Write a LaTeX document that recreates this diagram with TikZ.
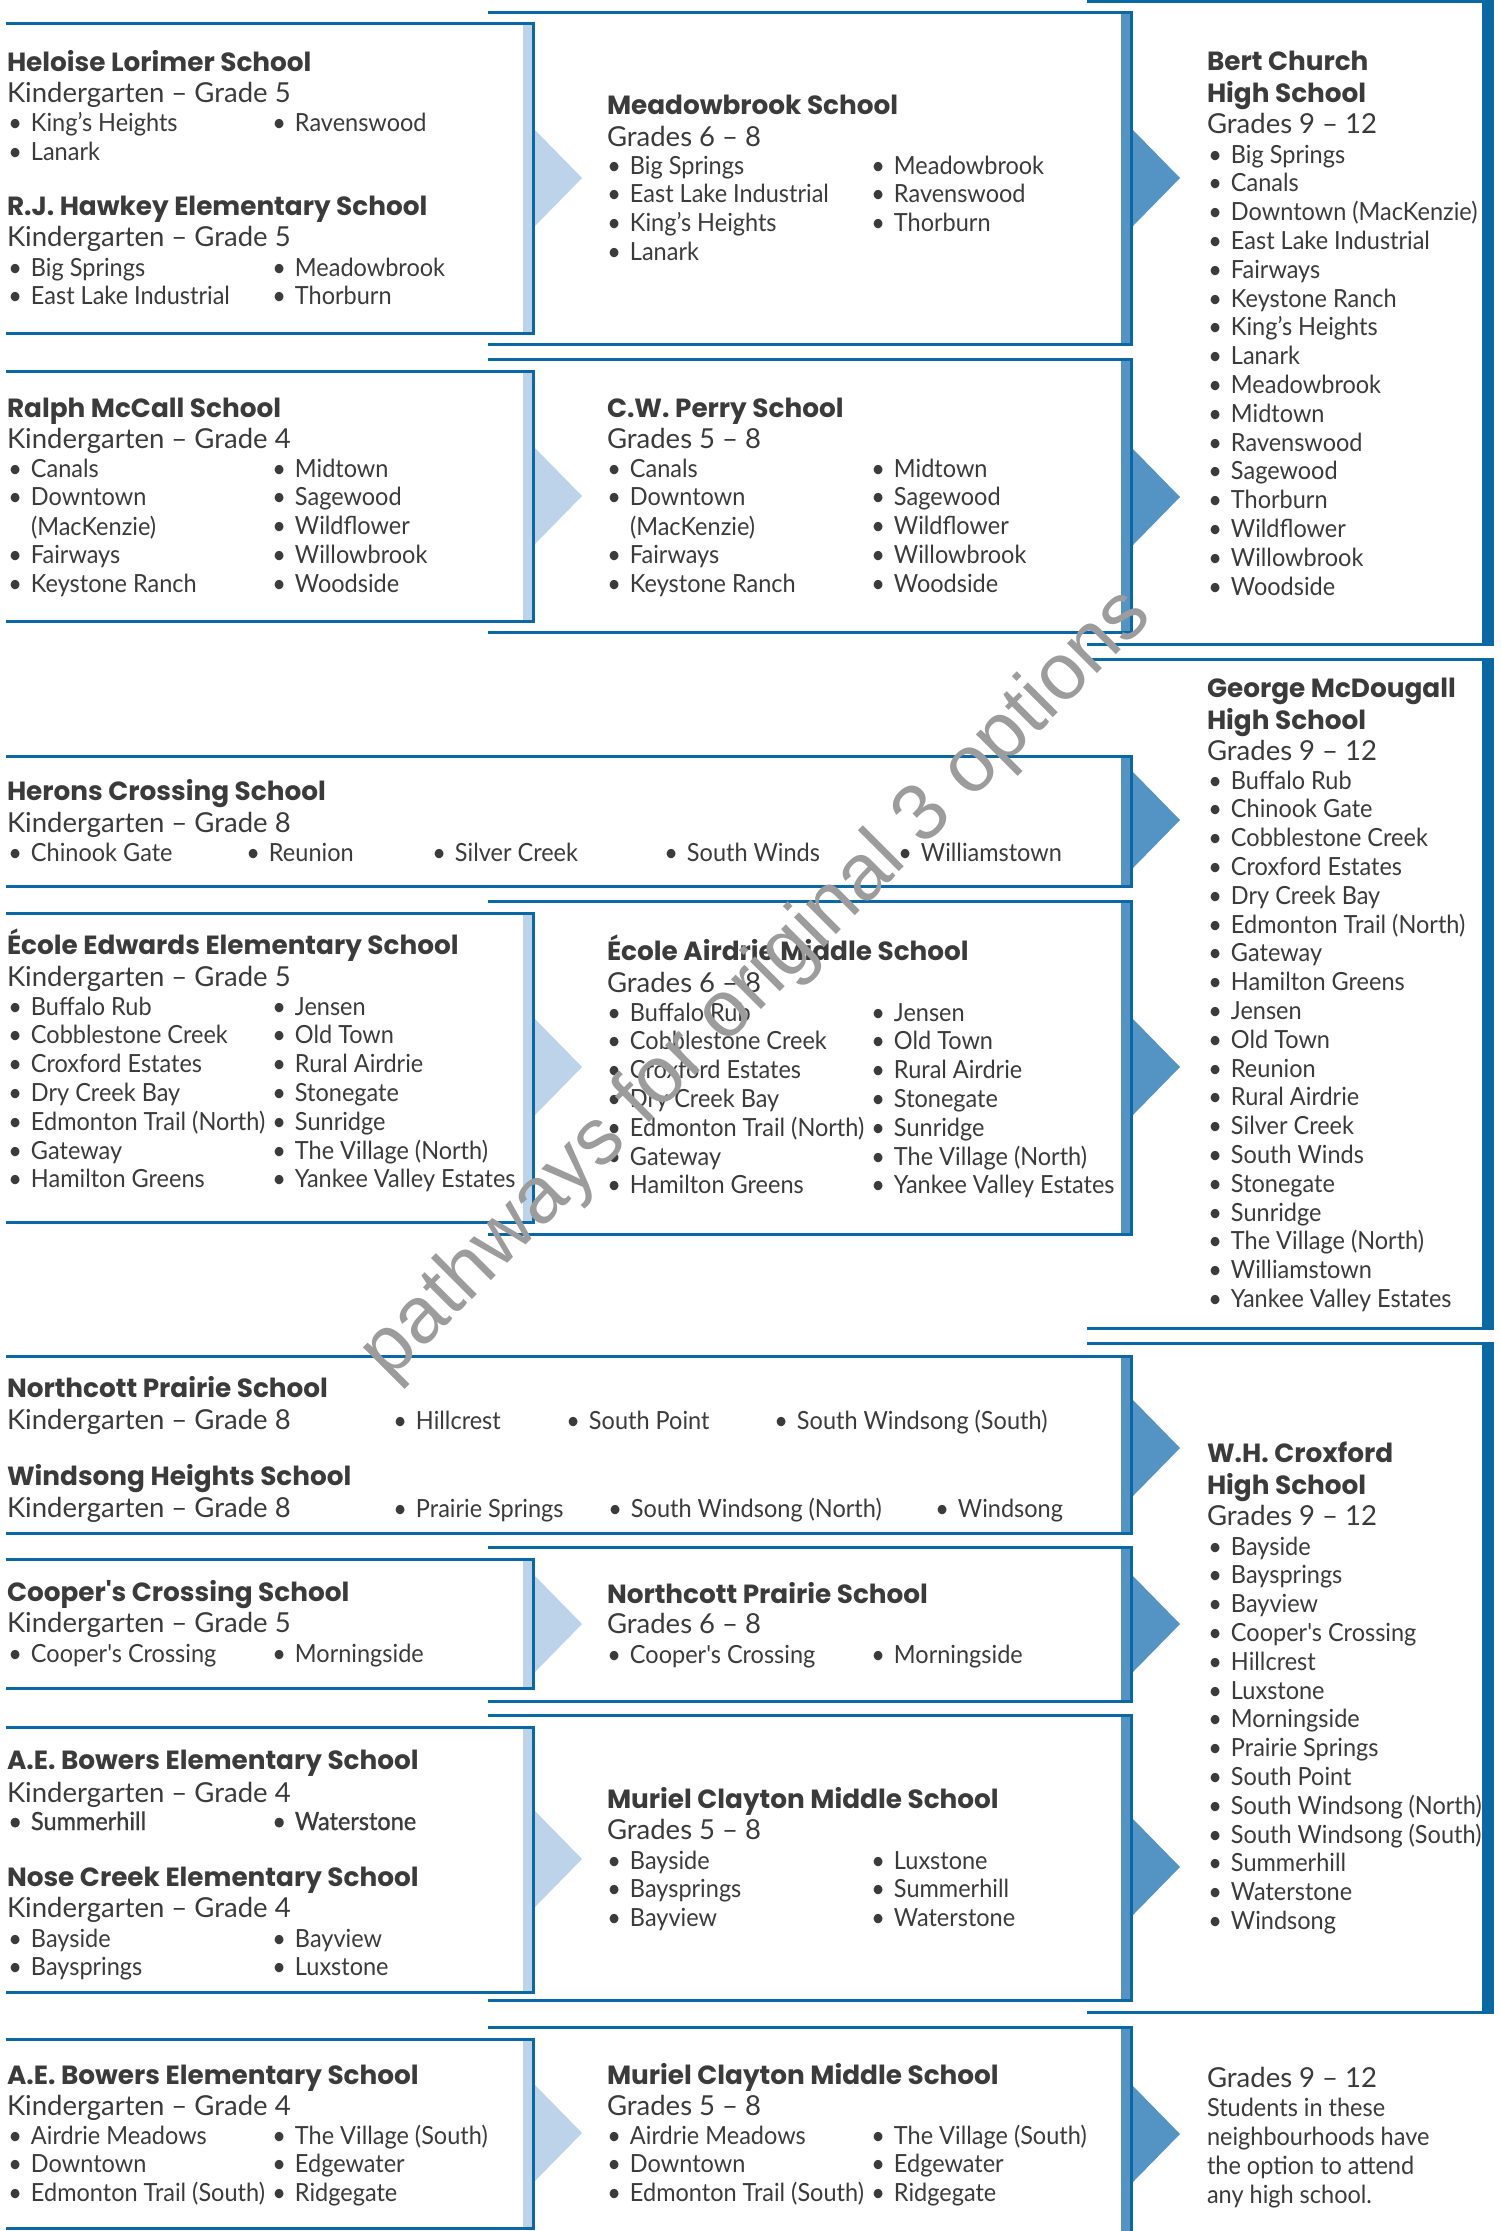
\documentclass[tikz,border=0pt]{standalone}
\usepackage{fontspec}
\setmainfont{Lato}[FakeStretch=0.94,Ligatures=TeXOff]
\newfontfamily\gradefam{Lato}[Ligatures=TeXOff]
\newfontfamily\titlefam{Poppins}[Ligatures=TeXOff]
\newfontfamily\wmfam{Liberation Sans}
\definecolor{dblue}{HTML}{0A69A5}
\definecolor{mblue}{HTML}{5494C4}
\definecolor{lblue}{HTML}{BDD3EA}
\definecolor{tcol}{HTML}{3B3B3B}
\definecolor{wmcol}{HTML}{9C9C9C}
\newcommand\bodyf{\fontsize{25}{30}\selectfont}
\newcommand\gradef{\gradefam\fontsize{27.5}{30}\selectfont}
\newcommand\titlef{\titlefam\bfseries\fontsize{26.3}{30}\selectfont}
\newcommand\wmf{\wmfam\fontsize{80}{80}\selectfont}
\tikzset{
  txt/.style={anchor=base west, inner sep=0pt, outer sep=0pt, text=tcol},
  titlenode/.style={txt, font=\titlef},
  gradenode/.style={txt, font=\gradef},
  itemnode/.style={txt, font=\bodyf},
  darkitem/.style={txt, font=\bodyf\addfontfeatures{FakeBold=1}},
  boxline/.style={draw=dblue, line width=3pt},
  wmark/.style={text=wmcol, font=\wmf, inner sep=0pt},
}
\newcommand\schoolbox[6]{%
  \coordinate (#1-nw) at (#2,#4);
  \coordinate (#1-se) at (#3,#5);
  \fill[#6] ({#3-12},#4) rectangle (#3,#5);
  \draw[boxline] (#2,#4) -- ({#3-1.5},#4) -- ({#3-1.5},#5) -- (#2,#5);
}
\newcommand\pointer[4]{%
  \fill[#4] (#2,{#3-48}) -- ({#2+47},#3) -- (#2,{#3+48}) -- cycle;
  \coordinate (#1) at ({#2+47},#3);
}
\newcommand\ttl[4]{\node[titlenode] (#1) at (#2,#3) {#4};}
\newcommand\grd[4]{\node[gradenode] (#1) at (#2,#3) {#4};}
\newcommand\plain[4]{\node[itemnode] (#1) at (#2,#3) {#4};}
\newcommand\itm[4]{\node[itemnode] (#1) at (#2,#3) {\llap{•\hspace{9pt}}#4};}
\newcommand\ditm[4]{\node[darkitem] (#1) at (#2,#3) {\llap{•\hspace{9pt}}#4};}
\newcommand\blist[4]{%
  \foreach[count=\i] \t in {#4} {\node[itemnode] (#1-\i) at (#2,{#3+(\i-1)*28.8}) {\llap{•\hspace{9pt}}\t};}%
}
\begin{document}
\begin{tikzpicture}[x=1pt,y=-1pt]
\useasboundingbox (0,0) rectangle (1501,2231);
\clip (0,0) rectangle (1501,2231);
\fill[white] (0,0) rectangle (1501,2231);
% ---------- boxes ----------
\schoolbox{L1}{6}{535}{23}{333}{lblue}
\schoolbox{L2}{6}{535}{371}{621}{lblue}
\schoolbox{L3}{6}{535}{913}{1222}{lblue}
\schoolbox{L5}{6}{535}{1559}{1688}{lblue}
\schoolbox{L6}{6}{535}{1727}{1992}{lblue}
\schoolbox{L7}{6}{535}{2039}{2228}{lblue}
\schoolbox{HC}{6}{1133}{756}{886}{mblue}
\schoolbox{NW}{6}{1133}{1356}{1533}{mblue}
\schoolbox{M1}{488}{1133}{12}{344}{mblue}
\schoolbox{M2}{488}{1133}{359}{632}{mblue}
\schoolbox{M3}{488}{1133}{901}{1234}{mblue}
\schoolbox{M4}{488}{1133}{1547}{1701}{mblue}
\schoolbox{M5}{488}{1133}{1715}{2000}{mblue}
\schoolbox{M6}{488}{1133}{2027}{2262}{mblue}
\schoolbox{H1}{1087}{1494}{1}{644}{dblue}
\schoolbox{H2}{1087}{1494}{659}{1328}{dblue}
\schoolbox{H3}{1087}{1494}{1343}{2012}{dblue}
% ---------- arrows ----------
\pointer{aL1}{535}{178}{lblue}
\pointer{aL2}{535}{496}{lblue}
\pointer{aL3}{535}{1067}{lblue}
\pointer{aL5}{535}{1624}{lblue}
\pointer{aL6}{535}{1859}{lblue}
\pointer{aL7}{535}{2133}{lblue}
\pointer{aM1}{1133}{178}{mblue}
\pointer{aM2}{1133}{497}{mblue}
\pointer{aHC}{1133}{820}{mblue}
\pointer{aM3}{1133}{1067}{mblue}
\pointer{aNW}{1133}{1448}{mblue}
\pointer{aM4}{1133}{1624}{mblue}
\pointer{aM5}{1133}{1867}{mblue}
\pointer{aM6}{1133}{2134}{mblue}
% ---------- row 1 ----------
\ttl{t-hl}{7}{71}{Heloise Lorimer School}
\grd{g-hl}{7}{102}{Kindergarten – Grade 5}
\itm{i-hl1}{31}{131}{King’s Heights}
\itm{i-hl2}{295}{131}{Ravenswood}
\itm{i-hl3}{31}{160}{Lanark}
\ttl{t-rj}{7}{215}{R.J. Hawkey Elementary School}
\grd{g-rj}{7}{246}{Kindergarten – Grade 5}
\blist{rja}{31}{276}{Big Springs,East Lake Industrial}
\blist{rjb}{295}{276}{Meadowbrook,Thorburn}
\ttl{t-mb}{607}{114}{Meadowbrook School}
\grd{g-mb}{607}{146}{Grades 6 – 8}
\blist{mba}{630}{174}{Big Springs,East Lake Industrial,King’s Heights,Lanark}
\blist{mbb}{894}{174}{Meadowbrook,Ravenswood,Thorburn}
\ttl{t-bc1}{1207}{70}{Bert Church}
\ttl{t-bc2}{1207}{102}{High School}
\grd{g-bc}{1207}{133}{Grades 9 – 12}
\blist{bc}{1231}{163}{Big Springs,Canals,Downtown (MacKenzie),East Lake Industrial,Fairways,Keystone Ranch,King’s Heights,Lanark,Meadowbrook,Midtown,Ravenswood,Sagewood,Thorburn,Wildflower,Willowbrook,Woodside}
% ---------- row 2 ----------
\ttl{t-rm}{7}{417}{Ralph McCall School}
\grd{g-rm}{7}{448}{Kindergarten – Grade 4}
\blist{rma}{31}{477}{Canals,Downtown}
\plain{c-rm}{31}{535}{(MacKenzie)}
\blist{rmc}{31}{563.6}{Fairways,Keystone Ranch}
\blist{rmb}{295}{477}{Midtown,Sagewood,Wildflower,Willowbrook,Woodside}
\ttl{t-cw}{607}{417}{C.W. Perry School}
\grd{g-cw}{607}{448}{Grades 5 – 8}
\blist{cwa}{630}{477}{Canals,Downtown}
\plain{c-cw}{630}{535}{(MacKenzie)}
\blist{cwc}{630}{563.6}{Fairways,Keystone Ranch}
\blist{cwb}{894}{477}{Midtown,Sagewood,Wildflower,Willowbrook,Woodside}
% ---------- Herons ----------
\ttl{t-hc}{7}{800}{Herons Crossing School}
\grd{g-hc}{7}{832}{Kindergarten – Grade 8}
\itm{i-hc1}{31}{861}{Chinook Gate}
\itm{i-hc2}{269}{861}{Reunion}
\itm{i-hc3}{455}{861}{Silver Creek}
\itm{i-hc4}{687}{861}{South Winds}
\itm{i-hc5}{921}{861}{Williamstown}
\ttl{t-gm1}{1207}{697}{George McDougall}
\ttl{t-gm2}{1207}{729}{High School}
\grd{g-gm}{1207}{760}{Grades 9 – 12}
\blist{gm}{1231}{789}{Buffalo Rub,Chinook Gate,Cobblestone Creek,Croxford Estates,Dry Creek Bay,Edmonton Trail (North),Gateway,Hamilton Greens,Jensen,Old Town,Reunion,Rural Airdrie,Silver Creek,South Winds,Stonegate,Sunridge,The Village (North),Williamstown,Yankee Valley Estates}
% ---------- Ecole ----------
\ttl{t-ee}{7}{954}{École Edwards Elementary School}
\grd{g-ee}{7}{986}{Kindergarten – Grade 5}
\blist{eea}{31}{1015}{Buffalo Rub,Cobblestone Creek,Croxford Estates,Dry Creek Bay,Edmonton Trail (North),Gateway,Hamilton Greens}
\blist{eeb}{295}{1015}{Jensen,Old Town,Rural Airdrie,Stonegate,Sunridge,The Village (North),Yankee Valley Estates}
\ttl{t-ea}{607}{960}{École Airdrie Middle School}
\grd{g-ea}{607}{992}{Grades 6 – 8}
\blist{eaa}{630}{1021}{Buffalo Rub,Cobblestone Creek,Croxford Estates,Dry Creek Bay,Edmonton Trail (North),Gateway,Hamilton Greens}
\blist{eab}{894}{1021}{Jensen,Old Town,Rural Airdrie,Stonegate,Sunridge,The Village (North),Yankee Valley Estates}
% ---------- Northcott / Windsong ----------
\ttl{t-np}{7}{1397}{Northcott Prairie School}
\grd{g-np}{7}{1429}{Kindergarten – Grade 8}
\itm{i-np1}{416}{1429}{Hillcrest}
\itm{i-np2}{589}{1429}{South Point}
\itm{i-np3}{797}{1429}{South Windsong (South)}
\ttl{t-wh}{7}{1485}{Windsong Heights School}
\grd{g-wh}{7}{1517}{Kindergarten – Grade 8}
\itm{i-wh1}{416}{1517}{Prairie Springs}
\itm{i-wh2}{631}{1517}{South Windsong (North)}
\itm{i-wh3}{958}{1517}{Windsong}
% ---------- Cooper's ----------
\ttl{t-cc}{7}{1601}{Cooper's Crossing School}
\grd{g-cc}{7}{1632}{Kindergarten – Grade 5}
\itm{i-cc1}{31}{1662}{Cooper's Crossing}
\itm{i-cc2}{295}{1662}{Morningside}
\ttl{t-np2}{607}{1603}{Northcott Prairie School}
\grd{g-np2}{607}{1633}{Grades 6 – 8}
\itm{i-np21}{630}{1663}{Cooper's Crossing}
\itm{i-np22}{894}{1663}{Morningside}
\ttl{t-wc1}{1207}{1462}{W.H. Croxford}
\ttl{t-wc2}{1207}{1494}{High School}
\grd{g-wc}{1207}{1525}{Grades 9 – 12}
\blist{wc}{1231}{1555}{Bayside,Baysprings,Bayview,Cooper's Crossing,Hillcrest,Luxstone,Morningside,Prairie Springs,South Point,South Windsong (North),South Windsong (South),Summerhill,Waterstone,Windsong}
% ---------- A.E. Bowers / Nose Creek ----------
\ttl{t-ae}{7}{1769}{A.E. Bowers Elementary School}
\grd{g-ae}{7}{1802}{Kindergarten – Grade 4}
\ditm{i-ae1}{31}{1830}{Summerhill}
\ditm{i-ae2}{295}{1830}{Waterstone}
\ttl{t-nc}{7}{1886}{Nose Creek Elementary School}
\grd{g-nc}{7}{1917}{Kindergarten – Grade 4}
\blist{nca}{31}{1947}{Bayside,Baysprings}
\blist{ncb}{295}{1947}{Bayview,Luxstone}
\ttl{t-mc}{607}{1808}{Muriel Clayton Middle School}
\grd{g-mc}{607}{1839}{Grades 5 – 8}
\blist{mca}{630}{1869}{Bayside,Baysprings,Bayview}
\blist{mcb}{894}{1869}{Luxstone,Summerhill,Waterstone}
% ---------- last row ----------
\ttl{t-ae2}{7}{2084}{A.E. Bowers Elementary School}
\grd{g-ae2}{7}{2115}{Kindergarten – Grade 4}
\blist{aea}{31}{2144}{Airdrie Meadows,Downtown,Edmonton Trail (South)}
\blist{aeb}{295}{2144}{The Village (South),Edgewater,Ridgegate}
\ttl{t-mc2}{607}{2084}{Muriel Clayton Middle School}
\grd{g-mc2}{607}{2115}{Grades 5 – 8}
\blist{mc2a}{630}{2144}{Airdrie Meadows,Downtown,Edmonton Trail (South)}
\blist{mc2b}{894}{2144}{The Village (South),Edgewater,Ridgegate}
\grd{g-h4}{1207}{2087}{Grades 9 – 12}
\plain{p-h41}{1207}{2116}{Students in these}
\plain{p-h42}{1207}{2145}{neighbourhoods have}
\plain{p-h43}{1207}{2174}{the option to attend}
\plain{p-h44}{1207}{2203}{any high school.}
% ---------- watermark ----------
\node[wmark, rotate=45] (wm) at (757,985) {pathways for original 3 options};
\end{tikzpicture}
\end{document}
